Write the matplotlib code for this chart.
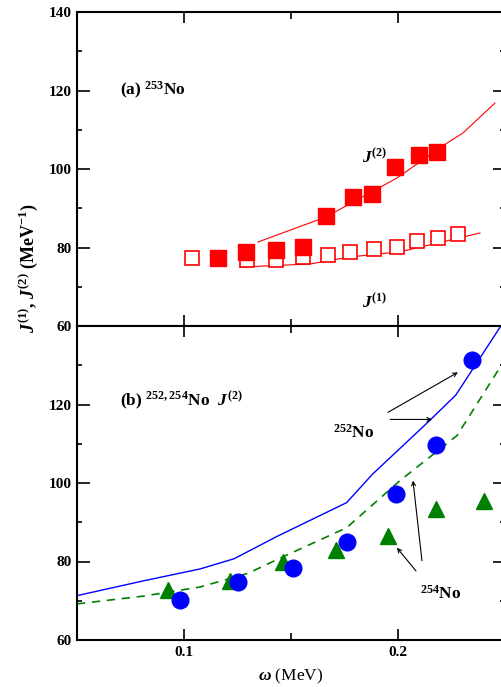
import matplotlib
matplotlib.use("Agg")
import matplotlib.pyplot as plt
from matplotlib.ticker import MultipleLocator, FixedLocator

plt.rcParams['font.family'] = ['Liberation Serif', 'DejaVu Serif']
plt.rcParams['font.weight'] = 'bold'
plt.rcParams['mathtext.fontset'] = 'custom'
plt.rcParams['mathtext.rm'] = 'Liberation Serif:bold'
plt.rcParams['mathtext.it'] = 'Liberation Serif:italic:bold'
plt.rcParams['mathtext.bf'] = 'Liberation Serif:bold'

# ---- panel (a): 253No ----
j2_omega = [0.1159, 0.129, 0.143, 0.1556, 0.1664, 0.179, 0.188, 0.1986, 0.2098, 0.218]
j2_exp = [77.3, 78.9, 79.4, 80.1, 88.0, 92.9, 93.6, 100.5, 103.6, 104.3]
j1_omega = [0.1037, 0.1294, 0.143, 0.1556, 0.1673, 0.1776, 0.1888, 0.1995, 0.2089, 0.2187, 0.228]
j1_exp = [77.3, 76.8, 76.8, 77.6, 78.1, 78.9, 79.6, 80.1, 81.7, 82.4, 83.4]
j2_th_omega = [0.1346, 0.1664, 0.1995, 0.2229, 0.2304, 0.2453]
j2_th = [81.4, 87.8, 97.7, 106.6, 109.2, 116.8]
j1_th_omega = [0.1262, 0.1589, 0.1776, 0.201, 0.2182, 0.2383]
j1_th = [75.0, 75.8, 77.6, 78.9, 81.1, 83.7]

# ---- panel (b): 252,254No J(2) ----
no252_omega = [0.0981, 0.1252, 0.151, 0.1762, 0.199, 0.2178, 0.2346]
no252_exp = [70.2, 74.8, 78.4, 85.0, 97.3, 109.6, 131.3]
no254_omega = [0.0926, 0.1215, 0.1463, 0.171, 0.1953, 0.2178, 0.240]
no254_exp = [72.8, 75.1, 79.9, 83.0, 86.6, 93.5, 95.5]
no252_th_omega = [0.05, 0.0813, 0.1075, 0.1234, 0.1435, 0.176, 0.188, 0.214, 0.227, 0.2477, 0.25]
no252_th = [71.3, 75.1, 78.1, 80.7, 86.4, 95.0, 102.2, 115.5, 122.4, 139.7, 141.5]
no254_th_omega = [0.05, 0.0813, 0.1075, 0.13, 0.1435, 0.176, 0.2009, 0.2276, 0.2477, 0.25]
no254_th = [69.2, 71.2, 73.5, 77.0, 80.5, 88.6, 100.6, 112.1, 129.5, 131.5]

xticks_major = [0.1, 0.2]
xticklabels = ['0.1', '0.2']
yticks_major = [60, 80, 100, 120, 140]

W, H = 501, 687
fig = plt.figure(figsize=(W / 100, H / 100), dpi=100)
left = 77 / W
right = 505 / W
ax1 = fig.add_axes([left, 1 - 326 / H, right - left, (326 - 12) / H])
ax2 = fig.add_axes([left, 1 - 640 / H, right - left, (640 - 326) / H])

for ax in (ax1, ax2):
    ax.set_xlim(0.05, 0.25)
    ax.set_ylim(60, 140)
    ax.xaxis.set_major_locator(FixedLocator(xticks_major))
    ax.xaxis.set_minor_locator(FixedLocator([0.15]))
    ax.yaxis.set_major_locator(FixedLocator(yticks_major))
    ax.yaxis.set_minor_locator(MultipleLocator(10))
    ax.tick_params(which='both', direction='in', top=True, right=True, width=1.2)
    ax.tick_params(axis='y', which='major', length=9)
    ax.tick_params(axis='y', which='minor', length=3.5)
    ax.tick_params(axis='x', which='major', length=8)
    ax.tick_params(axis='x', which='minor', length=5)
    ax.tick_params(axis='both', labelsize=11, pad=4)
    for s in ax.spines.values():
        s.set_linewidth(1.5)

ax1.set_xticklabels([])
ax1.set_yticklabels([str(v) for v in yticks_major])
ax2.set_xticklabels(xticklabels)
ax2.set_yticklabels([str(v) for v in yticks_major[:-1]] + [''])

# panel (a)
ax1.plot(j2_th_omega, j2_th, '-', color='red', lw=0.8)
ax1.plot(j1_th_omega, j1_th, '-', color='red', lw=0.8)
ax1.plot(j1_omega, j1_exp, 's', mfc='white', mec='red', mew=1.2, ms=9.5, ls='none')
ax1.plot(j2_omega, j2_exp, 's', color='red', ms=11, ls='none')
ax1.text(0.07, 120, r'(a) $^{253}$No', fontsize=12.5, ha='left', va='center')
ax1.text(0.183, 103, r'$J^{(2)}$', fontsize=12.5, ha='left', va='center')
ax1.text(0.183, 66, r'$J^{(1)}$', fontsize=12.5, ha='left', va='center')

# panel (b)
ax2.plot(no252_th_omega, no252_th, '-', color='blue', lw=1.0)
ax2.plot(no254_th_omega, no254_th, '--', color='green', lw=1.2, dashes=(5, 4))
ax2.plot(no254_omega, no254_exp, '^', color='green', ms=12, ls='none')
ax2.plot(no252_omega, no252_exp, 'o', color='blue', ms=12, ls='none')
ax2.text(0.07, 121, r'(b) $^{252,254}$No  $J^{(2)}$', fontsize=12.5, ha='left', va='center')

ax2.text(0.1696, 111.6, r'$^{252}$No', fontsize=12.5, ha='left', va='baseline')
ax2.text(0.2103, 70.5, r'$^{254}$No', fontsize=12.5, ha='left', va='baseline')
arr = dict(arrowstyle='->', color='black', lw=0.8, mutation_scale=7, shrinkA=0, shrinkB=0)
ax2.annotate('', xy=(0.228, 128.2), xytext=(0.1953, 118.0), arrowprops=arr)
ax2.annotate('', xy=(0.2159, 116.2), xytext=(0.1963, 116.2), arrowprops=arr)
ax2.annotate('', xy=(0.1995, 83.5), xytext=(0.2084, 77.6), arrowprops=arr)
ax2.annotate('', xy=(0.207, 100.6), xytext=(0.2112, 80.2), arrowprops=arr)

ax2.set_xlabel(r'$\omega$ (MeV)', fontsize=12.5, labelpad=6)
fig.text(28 / W, 1 - 268 / H, r'$J^{(1)}$, $J^{(2)}$ (MeV$^{-1}$)', rotation=90,
         fontsize=13, ha='center', va='center')

fig.savefig('out.png', dpi=100)
